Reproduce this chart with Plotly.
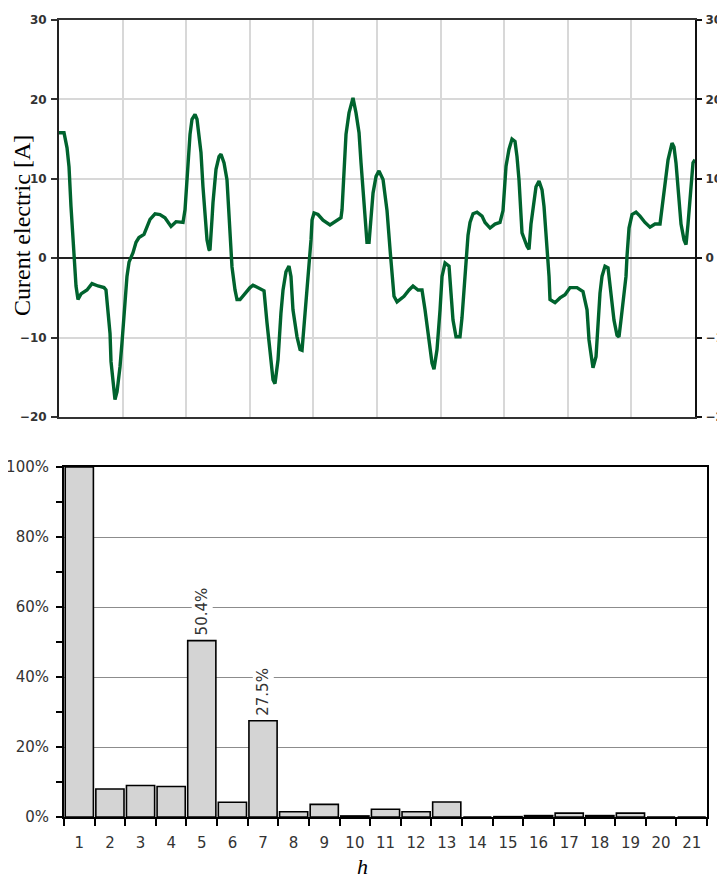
import plotly.graph_objects as go

# ---- Top chart: current waveform (time in ms, current in A) ----
t_ms = [0.00, 0.63, 1.01, 1.26, 1.51, 1.89, 2.14, 2.39, 2.77, 3.52, 4.15, 4.91, 5.66, 5.91,
        6.16, 6.42, 6.54, 6.79, 7.04, 7.30, 7.67, 7.92, 8.30, 8.55, 8.81, 9.31, 9.69, 10.06,
        10.69, 11.07, 11.45, 12.08, 12.70, 13.33, 14.09, 14.72, 15.60, 15.85, 16.23, 16.48,
        16.73, 17.11, 17.36, 17.61, 17.86, 18.11, 18.37, 18.62, 18.87, 18.99, 19.25, 19.37,
        19.75, 20.13, 20.38, 20.76, 21.13, 21.38, 21.64, 21.76, 22.14, 22.39, 22.77, 23.40,
        24.03, 24.40, 25.28, 25.79, 26.16, 26.54, 26.92, 27.17, 27.55, 27.92, 28.18, 28.55,
        28.93, 29.18, 29.43, 29.94, 30.32, 30.57, 30.82, 31.20, 31.45, 31.70, 31.83, 32.08,
        32.58, 33.21, 34.09, 34.97, 35.47, 35.60, 36.10, 36.48, 36.98, 37.36, 37.74, 37.99,
        38.37, 38.62, 38.74, 39.00, 39.25, 39.50, 39.88, 40.25, 40.76, 41.01, 41.26, 41.64,
        41.89, 42.14, 42.52, 42.89, 43.40, 44.03, 44.53, 45.16, 45.66, 46.04, 46.42, 46.92,
        47.17, 47.55, 47.93, 48.18, 48.56, 49.06, 49.31, 49.56, 49.94, 50.44, 50.69, 50.94,
        51.20, 51.45, 51.70, 52.08, 52.58, 53.21, 53.59, 54.22, 54.84, 55.47, 55.85, 56.23,
        56.60, 56.98, 57.36, 57.61, 57.86, 58.11, 58.24, 58.87, 59.12, 59.37, 59.75, 60.00,
        60.38, 60.76, 61.01, 61.13, 61.39, 61.64, 61.76, 62.39, 63.02, 63.65, 64.28, 65.16,
        65.91, 66.42, 66.67, 67.05, 67.17, 67.55, 67.80, 68.05, 68.30, 68.68, 69.06, 69.43,
        69.81, 70.19, 70.44, 70.69, 70.94, 71.32, 71.45, 71.70, 72.08, 72.58, 73.08, 73.71,
        74.34, 74.97, 75.60, 75.98, 76.23, 76.61, 77.11, 77.36, 77.61, 77.86, 78.11, 78.24,
        78.62, 78.87, 79.12, 79.37, 79.75, 80.00]
current_A = [15.8, 15.8, 13.9, 11.5, 6.5, 0.0, -3.5, -5.2, -4.5, -4.0, -3.2, -3.5, -3.7, -4.0,
             -6.6, -9.5, -13.0, -15.5, -17.8, -16.8, -13.7, -10.7, -5.0, -2.3, -0.5, 0.7, 2.0, 2.6,
             3.0, 4.0, 4.9, 5.6, 5.5, 5.1, 4.0, 4.6, 4.5, 6.1, 12.8, 15.6,
             17.5, 18.1, 17.5, 15.6, 13.3, 9.0, 6.0, 2.3, 1.1, 1.0, 5.0, 7.0,
             11.2, 12.8, 13.1, 12.0, 9.9, 6.1, 2.3, -1.1, -4.0, -5.2, -5.2, -4.4,
             -3.7, -3.4, -3.9, -4.1, -8.1, -11.9, -15.3, -15.8, -12.8, -6.9, -4.0, -1.7,
             -1.0, -2.3, -6.5, -9.9, -11.5, -11.6, -8.6, -4.8, -1.5, 2.3, 4.8, 5.7,
             5.5, 4.8, 4.2, 4.8, 5.1, 6.1, 15.6, 18.3, 20.2, 18.3, 15.8, 12.0,
             7.4, 4.3, 2.0, 2.0, 4.8, 8.2, 10.3, 11.0, 9.9, 8.2, 6.0, 1.1,
             -2.3, -4.8, -5.5, -5.2, -4.8, -4.0, -3.5, -4.0, -4.0, -6.5, -9.4, -13.2,
             -14.0, -11.5, -6.5, -2.3, -0.6, -1.0, -4.4, -7.8, -9.9, -9.9, -7.5, -4.4,
             -0.6, 2.9, 4.5, 5.6, 5.8, 5.3, 4.5, 3.8, 4.3, 4.5, 6.0, 11.6,
             13.7, 15.0, 14.7, 12.8, 9.9, 6.0, 3.2, 1.5, 1.1, 4.3, 7.4, 9.0,
             9.7, 8.6, 6.5, 5.0, 1.1, -2.3, -5.2, -5.6, -5.0, -4.6, -3.7, -3.7,
             -4.2, -6.5, -10.3, -12.8, -13.8, -12.4, -8.6, -4.4, -2.3, -1.0, -1.2, -4.8,
             -7.8, -9.7, -9.9, -7.8, -5.6, -2.3, 0.3, 3.8, 5.5, 5.8, 5.3, 4.5,
             3.9, 4.3, 4.3, 7.4, 9.7, 12.4, 14.5, 14.0, 12.0, 9.0, 6.0, 4.3,
             2.3, 1.7, 4.3, 7.4, 12.0, 12.4]

# ---- Bottom chart: harmonic spectrum ----
harmonics = [str(h) for h in range(1, 22)]
amplitude = [1.000, 0.080, 0.090, 0.087, 0.504, 0.042, 0.275, 0.015, 0.036, 0.003, 0.022,
             0.015, 0.043, 0.000, 0.001, 0.004, 0.011, 0.004, 0.011, 0.000, 0.000]
labelled = ["5", "7"]

y_ticks_top = [-20, -10, 0, 10, 20, 30]

W, H = 725, 875
OFF = 8  # page body margin of the browser


def fx(px):
    return (px - OFF) / W


def fy(py):
    return (H - (py - OFF)) / H


fig = go.Figure()

fig.add_trace(go.Scatter(x=t_ms, y=current_A, mode="lines",
                         line=dict(color="#00632e", width=3.4),
                         xaxis="x", yaxis="y", showlegend=False, hoverinfo="skip"))
fig.add_trace(go.Scatter(x=[], y=[], xaxis="x", yaxis="y3", showlegend=False))

fig.add_trace(go.Bar(x=harmonics, y=amplitude, xaxis="x2", yaxis="y2",
                     marker=dict(color="#d4d4d4", line=dict(color="black", width=1.6)),
                     showlegend=False))

top_font = dict(family="DejaVu Sans", size=12, color="#333", weight="bold")
bot_font = dict(family="DejaVu Sans", size=15, color="#333")

fig.update_layout(
    width=W, height=H,
    margin=dict(l=0, r=0, t=0, b=0, autoexpand=False),
    paper_bgcolor="white", plot_bgcolor="white",
    bargap=0.08,
    xaxis=dict(domain=[fx(59), fx(695)], anchor="y", range=[0, 80], dtick=8,
               automargin=False,
               showgrid=True, gridcolor="#d8d8d8", gridwidth=1.5,
               showticklabels=False, ticks="", zeroline=False,
               showline=True, mirror=True, linecolor="#333", linewidth=1.5),
    yaxis=dict(domain=[fy(417), fy(20)], anchor="x", range=[-20, 30],
               automargin=False,
               tickvals=y_ticks_top, showgrid=True, gridcolor="#d8d8d8", gridwidth=1.5,
               zeroline=True, zerolinecolor="#222", zerolinewidth=1.5,
               ticks="outside", ticklen=6, tickcolor="#333", tickwidth=1.5,
               tickfont=top_font, ticklabelstandoff=2,
               showline=True, linecolor="#222", linewidth=2),
    yaxis3=dict(overlaying="y", side="right", anchor="x", range=[-20, 30],
                automargin=False,
                tickvals=y_ticks_top, showgrid=False, zeroline=False,
                ticks="outside", ticklen=5, tickcolor="#111", tickwidth=1.5,
                tickfont=top_font, ticklabelstandoff=1,
                showline=True, linecolor="#111", linewidth=2),
    xaxis2=dict(domain=[fx(64), fx(707)], anchor="y2", type="category",
                automargin=False,
                categoryorder="array", categoryarray=harmonics,
                tickson="boundaries", ticks="outside", ticklen=7, tickcolor="black",
                tickwidth=1.5, tickfont=bot_font, ticklabelstandoff=11,
                showline=True, mirror=True, linecolor="black", linewidth=1.5,
                showgrid=False),
    yaxis2=dict(domain=[fy(817), fy(467)], anchor="x2", range=[0, 1],
                automargin=False,
                dtick=0.2, tickformat=".0%", showgrid=True, gridcolor="#8c8c8c",
                gridwidth=1, zeroline=False, ticks="outside", ticklen=6,
                tickcolor="black", tickwidth=1.5, tickfont=bot_font, ticklabelstandoff=4,
                minor=dict(dtick=0.1, ticks="outside", ticklen=6, tickcolor="black",
                           showgrid=False),
                showline=True, mirror=True, linecolor="black", linewidth=2),
)

annotations = [
    dict(text="Curent electric [A]", xref="paper", yref="paper",
         x=fx(22), y=fy(226), textangle=-90, showarrow=False,
         font=dict(family="Liberation Serif", size=24, color="black"),
         xanchor="center", yanchor="middle"),
    dict(text="<i>h</i>", xref="paper", yref="paper", x=fx(362), y=fy(866),
         showarrow=False, font=dict(family="Liberation Serif", size=22, color="black"),
         xanchor="center", yanchor="middle"),
]
for i, (h, v) in enumerate(zip(harmonics, amplitude)):
    if h in labelled:
        annotations.append(dict(text=f"{v * 100:.1f}%", x=i, y=v, xref="x2", yref="y2",
                                textangle=-90, showarrow=False, yanchor="bottom",
                                yshift=3, bgcolor="white",
                                font=dict(family="DejaVu Sans", size=15, color="#333")))
fig.update_layout(annotations=annotations)

fig.write_html("out.html")
